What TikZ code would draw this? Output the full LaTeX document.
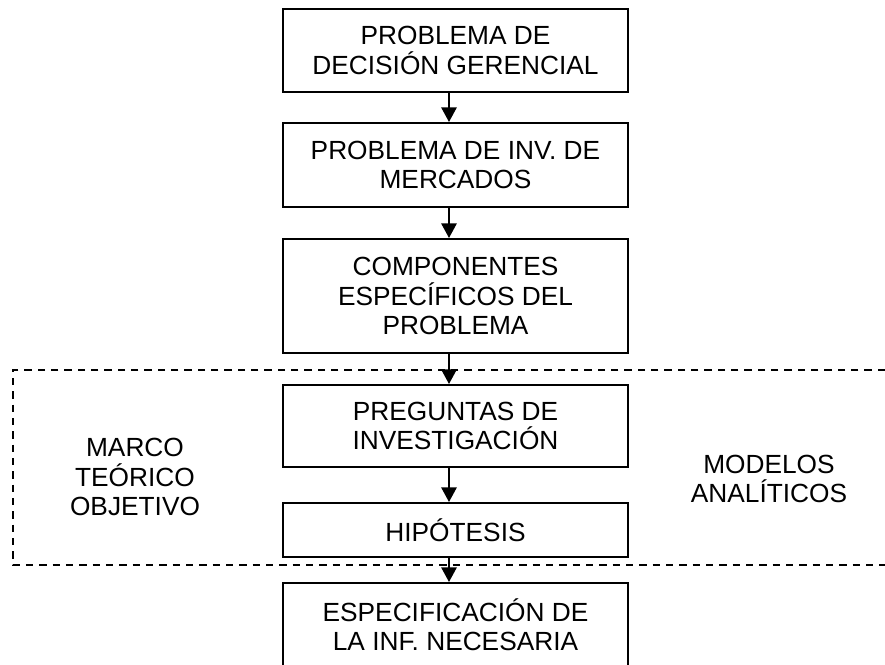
\documentclass[tikz,border=0pt]{standalone}
\usepackage{fontspec}
\setmainfont{Liberation Sans}
\usetikzlibrary{arrows.meta}
\begin{document}
\begin{tikzpicture}[x=0.75pt,y=-0.75pt,
  every node/.style={font=\fontsize{19.7}{22}\selectfont, align=center, inner sep=0pt},
  stagebox/.style={draw, line width=1.5pt, minimum width=258.75pt},
  flowarrow/.style={line width=1.5pt, -{Triangle[length=11pt,width=11.5pt]}},
  frameline/.style={line width=1.2pt, dash pattern=on 5.6pt off 4.4pt}]
\clip (0,0) rectangle (885,664);
\node[stagebox, minimum height=62.25pt] (b1) at (455.5,50.5) {PROBLEMA DE\\DECISIÓN GERENCIAL};
\node[stagebox, minimum height=63pt] (b2) at (455.5,165) {PROBLEMA DE INV. DE\\MERCADOS};
\node[stagebox, minimum height=85.5pt] (b3) at (455.5,296) {COMPONENTES\\ESPECÍFICOS DEL\\PROBLEMA};
\node[stagebox, minimum height=61.5pt] (b4) at (455.5,426) {PREGUNTAS DE\\INVESTIGACIÓN};
\node[stagebox, minimum height=40.5pt] (b5) at (455.5,530) {HIPÓTESIS};
\node[stagebox, minimum height=62.25pt] (b6) at (455.5,624.5) {ESPECIFICACIÓN DE\\LA INF. NECESARIA};
\node (marco) at (135,477) {MARCO\\TEÓRICO\\OBJETIVO};
\node (modelos) at (769,479) {MODELOS\\ANALÍTICOS};
\coordinate (ax) at (449,0);
\draw[frameline] (885,370) -- (13,370) -- (13,565) -- (885,565);
\draw[flowarrow] (b1.south -| ax) -- (b2.north -| ax);
\draw[flowarrow] (b2.south -| ax) -- (b3.north -| ax);
\draw[flowarrow] (b3.south -| ax) -- (b4.north -| ax);
\draw[flowarrow] (b4.south -| ax) -- (b5.north -| ax);
\draw[flowarrow] (b5.south -| ax) -- (b6.north -| ax);
\end{tikzpicture}
\end{document}
